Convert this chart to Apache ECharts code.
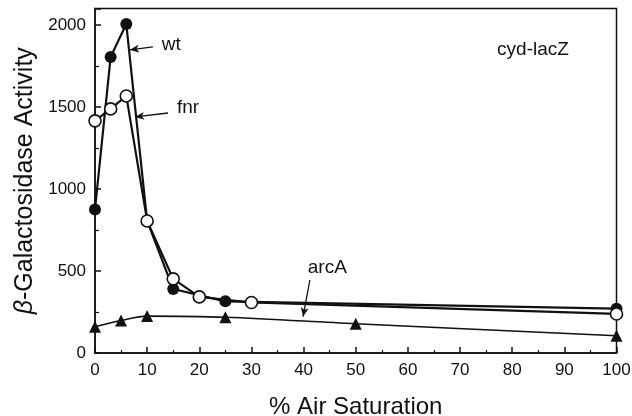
<!DOCTYPE html>
<html><head><meta charset="utf-8">
<script src="https://cdn.jsdelivr.net/npm/echarts@6/dist/echarts.min.js"></script>
<style>html,body{margin:0;padding:0;background:#fff}#c{width:632px;height:416px}</style>
</head><body><div id="c"></div>
<script>
const xTicks = [0,10,20,30,40,50,60,70,80,90,100];
const yTicks = [0,500,1000,1500,2000];
const wtX = [0,3,6,10,15,25,100];
const wtY = [875,1805,2005,805,390,315,270];
const fnrX = [0,3,6,10,15,20,30,100];
const fnrY = [1415,1488,1567,805,452,342,308,238];
const arcX = [0,5,10,25,50,100];
const arcY = [160,198,225,218,178,105];

const font = 'Liberation Sans, Arial, sans-serif';
const pair = (xs, ys) => xs.map((x,i)=>[x, ys[i]]);
const chart = echarts.init(document.getElementById('c'));
const arrowLine = (from, to) => [{coord: from, symbol:'none'}, {coord: to, symbol:'arrow'}];

chart.setOption({
  animation:false,
  grid:{left:95, right:15.5, top:8.5, bottom:63, containLabel:false, outerBoundsMode:'none',
    show:true, borderColor:'#111', borderWidth:1.5, backgroundColor:'transparent'},
  xAxis:{type:'value', min:0, max:100, interval:10,
    name:'% Air Saturation', nameLocation:'middle', nameGap:42,
    nameTextStyle:{fontFamily:font, fontSize:24, color:'#111'},
    axisLine:{lineStyle:{color:'#111', width:1.5}},
    axisTick:{inside:true, length:6, lineStyle:{color:'#111', width:1.5}},
    minorTick:{show:true, splitNumber:2, length:3, lineStyle:{color:'#111', width:1.2}},
    axisLabel:{margin:9, fontFamily:font, fontSize:17, color:'#111',
      formatter: v => xTicks.includes(v) ? String(v) : ''},
    splitLine:{show:false}},
  yAxis:{type:'value', min:0, max:2100, interval:500,
    name:'{i|β}-Galactosidase Activity', nameLocation:'middle', nameGap:54, nameRotate:90,
    nameTextStyle:{fontFamily:font, fontSize:25, color:'#111',
      rich:{i:{fontStyle:'italic', fontFamily:font, fontSize:25, color:'#111'}}},
    axisLine:{lineStyle:{color:'#111', width:1.5}},
    axisTick:{inside:true, length:6, lineStyle:{color:'#111', width:1.5}},
    minorTick:{show:true, splitNumber:2, length:4, lineStyle:{color:'#111', width:1.2}},
    axisLabel:{margin:9, fontFamily:font, fontSize:17, color:'#111',
      formatter: v => yTicks.includes(v) ? String(v) : ''},
    splitLine:{show:false}},
  series:[
    {type:'line', name:'arcA', data:pair(arcX, arcY), smooth:0.35,
      symbol:'triangle', symbolSize:12, itemStyle:{color:'#111'},
      lineStyle:{color:'#111', width:1.6},
      markLine:{silent:true, symbolSize:[6,9], lineStyle:{color:'#111', width:1.3, type:'solid'}, label:{show:false},
        data:[arrowLine([41.2,445],[39.9,222])]}},
    {type:'line', name:'wt', data:pair(wtX, wtY),
      symbol:'circle', symbolSize:12, itemStyle:{color:'#111'},
      lineStyle:{color:'#111', width:2.2},
      markLine:{silent:true, symbolSize:[6,9], lineStyle:{color:'#111', width:1.3, type:'solid'}, label:{show:false},
        data:[arrowLine([11.1,1866],[6.7,1848]), arrowLine([14,1463],[7.7,1439])]}},
    {type:'line', name:'fnr', data:pair(fnrX, fnrY),
      symbol:'circle', symbolSize:12, itemStyle:{color:'#fff', borderColor:'#111', borderWidth:1.6},
      lineStyle:{color:'#111', width:2.2}, z:3}
  ]
});

const txt = (label, x, y) => {
  const p = chart.convertToPixel({gridIndex:0}, [x, y]);
  return {type:'text', left:p[0], top:p[1]-10, style:{text:label, fontFamily:font, fontSize:19, fill:'#111'}};
};
chart.setOption({graphic:[
  txt('wt', 12.8, 1878),
  txt('fnr', 15.7, 1494),
  txt('arcA', 40.8, 518),
  txt('cyd-lacZ', 77.1, 1848)
]});
</script></body></html>
